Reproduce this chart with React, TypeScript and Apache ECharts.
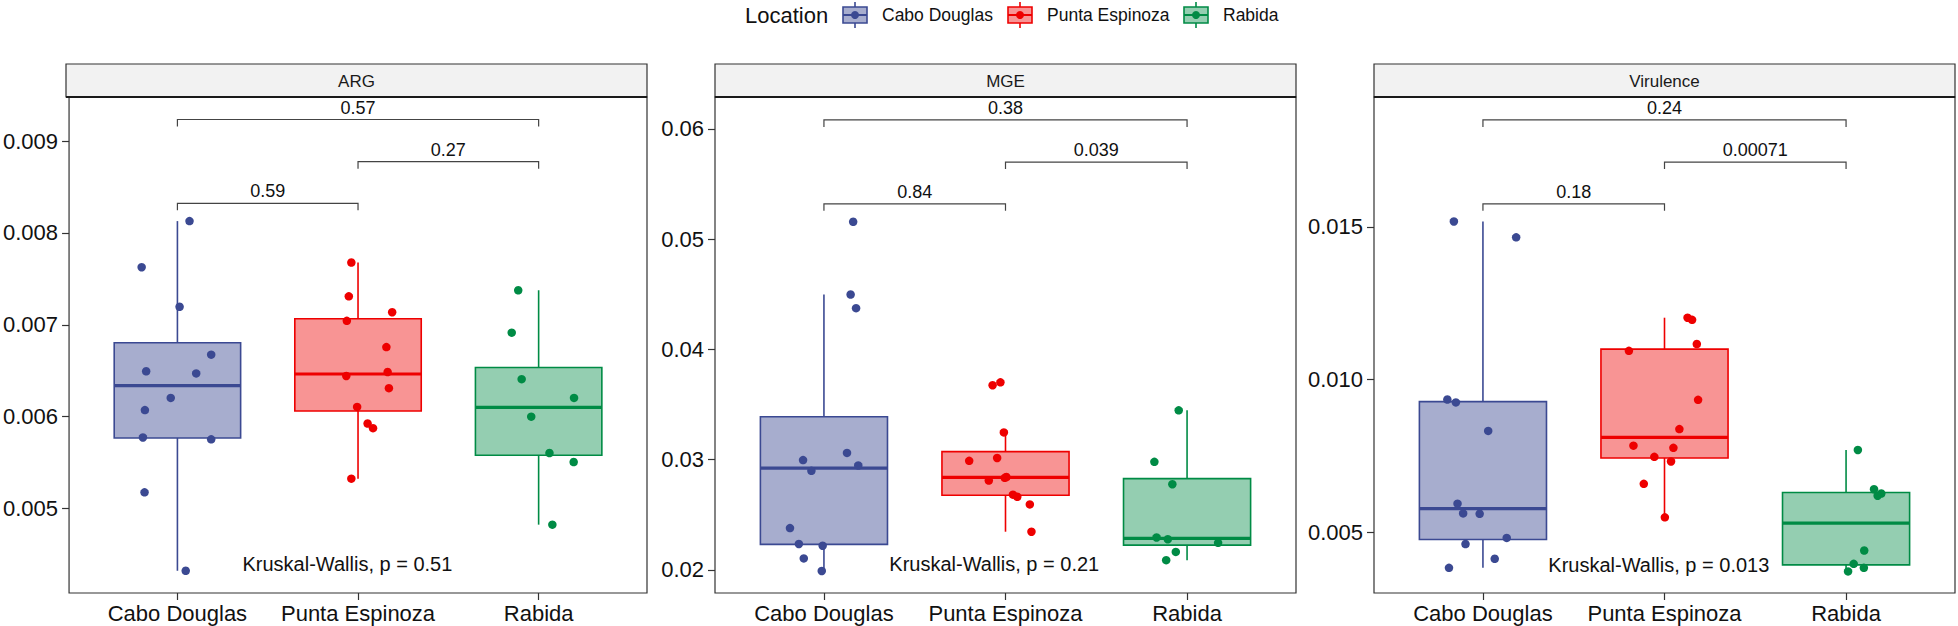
import React, { useEffect, useRef } from "react";
import * as echarts from "echarts";

const FONT = '"Liberation Sans", Arial, Helvetica, sans-serif';

const CATEGORIES = ["Cabo Douglas", "Punta Espinoza", "Rabida"];
const COLORS = ["#3B4992", "#EE0000", "#008B45"];
const FILLS = ["rgba(59,73,146,0.45)", "rgba(238,0,0,0.42)", "rgba(0,139,69,0.42)"];
const PANEL_TITLES = ["ARG", "MGE", "Virulence"];

// ARG values and horizontal jitter
const argCabo = [0.008129, 0.007627, 0.007196, 0.006675, 0.006494, 0.006471, 0.006204, 0.006071, 0.005773, 0.005753, 0.005176, 0.004322];
const argCaboJit = [0.067, -0.198, 0.012, 0.187, -0.173, 0.104, -0.037, -0.18, -0.191, 0.187, -0.182, 0.046];
const argPunta = [0.007678, 0.00731, 0.007137, 0.007043, 0.006757, 0.006443, 0.006486, 0.00631, 0.006106, 0.005925, 0.005875, 0.005325];
const argPuntaJit = [-0.037, -0.051, 0.189, -0.062, 0.157, -0.065, 0.164, 0.171, -0.005, 0.053, 0.083, -0.037];
const argRabida = [0.007376, 0.006914, 0.006408, 0.006204, 0.006, 0.005604, 0.005506, 0.004824];
const argRabidaJit = [-0.113, -0.149, -0.094, 0.196, -0.041, 0.06, 0.194, 0.076];

// MGE
const mgeCabo = [0.05158, 0.04498, 0.04374, 0.03061, 0.02996, 0.02947, 0.02898, 0.02379, 0.02235, 0.02219, 0.02104, 0.0199];
const mgeCaboJit = [0.161, 0.147, 0.177, 0.127, -0.115, 0.189, -0.069, -0.187, -0.138, -0.007, -0.111, -0.012];
const mgePunta = [0.03701, 0.03675, 0.03247, 0.03015, 0.02989, 0.02842, 0.02835, 0.0281, 0.02682, 0.02663, 0.02594, 0.02346];
const mgePuntaJit = [-0.028, -0.071, -0.009, -0.046, -0.2, 0.005, -0.004, -0.092, 0.041, 0.065, 0.134, 0.143];
const mgeRabida = [0.03447, 0.0298, 0.02777, 0.02294, 0.02278, 0.02245, 0.02163, 0.02088];
const mgeRabidaJit = [-0.046, -0.18, -0.081, -0.168, -0.106, 0.171, -0.062, -0.115];

// Virulence
const virCabo = [0.015177, 0.014658, 0.009351, 0.009257, 0.008325, 0.005943, 0.005625, 0.005613, 0.004823, 0.004623, 0.004139, 0.003844];
const virCaboJit = [-0.16, 0.183, -0.196, -0.149, 0.029, -0.14, -0.109, -0.018, 0.131, -0.096, 0.065, -0.187];
const virPunta = [0.012028, 0.011958, 0.011167, 0.010943, 0.00934, 0.008384, 0.007842, 0.007771, 0.007476, 0.007323, 0.006592, 0.005495];
const virPuntaJit = [0.127, 0.152, 0.178, -0.196, 0.185, 0.082, -0.171, 0.049, -0.056, 0.036, -0.114, 0.002];
const virRabida = [0.0077, 0.006415, 0.006274, 0.006203, 0.00441, 0.003974, 0.003844, 0.003726];
const virRabidaJit = [0.065, 0.154, 0.194, 0.174, 0.1, 0.042, 0.098, 0.011];

// axis ranges and ticks
const argRange = [0.00408, 0.00948];
const mgeRange = [0.0179, 0.0629];
const virRange = [0.00302, 0.01925];
const argTicks = [0.005, 0.006, 0.007, 0.008, 0.009];
const mgeTicks = [0.02, 0.03, 0.04, 0.05, 0.06];
const virTicks = [0.005, 0.01, 0.015];
const tickDecimals = [3, 2, 3];

// pairwise comparisons: [from, to]
const bracketPairs = [[1, 3], [2, 3], [1, 2]];
const argBracketY = [0.009235, 0.008776, 0.008322];
const mgeBracketY = [0.06082, 0.057, 0.05321];
const virBracketY = [0.0185, 0.01712, 0.015755];
const argBracketP = ["0.57", "0.27", "0.59"];
const mgeBracketP = ["0.38", "0.039", "0.84"];
const virBracketP = ["0.24", "0.00071", "0.18"];

const kruskalLabels = ["Kruskal-Wallis, p = 0.51", "Kruskal-Wallis, p = 0.21", "Kruskal-Wallis, p = 0.013"];
const kruskalY = [0.004392, 0.02049, 0.00394];
const KW_X = 1.36;

const BOX_WIDTH = 0.7;
const PANEL_LEFTS = [66, 715, 1374];
const PANEL_W = 581;
const PLOT_TOP = 97;
const PLOT_H = 496;
const STRIP_TOP = 64;

const panels = [
  { values: [argCabo, argPunta, argRabida], jit: [argCaboJit, argPuntaJit, argRabidaJit], range: argRange, ticks: argTicks, by: argBracketY, bp: argBracketP },
  { values: [mgeCabo, mgePunta, mgeRabida], jit: [mgeCaboJit, mgePuntaJit, mgeRabidaJit], range: mgeRange, ticks: mgeTicks, by: mgeBracketY, bp: mgeBracketP },
  { values: [virCabo, virPunta, virRabida], jit: [virCaboJit, virPuntaJit, virRabidaJit], range: virRange, ticks: virTicks, by: virBracketY, bp: virBracketP },
];

function quantile(sorted: number[], p: number) {
  const h = (sorted.length - 1) * p;
  const lo = Math.floor(h);
  const hi = Math.ceil(h);
  return sorted[lo] + (h - lo) * (sorted[hi] - sorted[lo]);
}

function boxStats(vals: number[]) {
  const s = [...vals].sort((a, b) => a - b);
  const q1 = quantile(s, 0.25);
  const med = quantile(s, 0.5);
  const q3 = quantile(s, 0.75);
  const iqr = q3 - q1;
  const low = Math.min(...s.filter((v) => v >= q1 - 1.5 * iqr));
  const high = Math.max(...s.filter((v) => v <= q3 + 1.5 * iqr));
  return [low, q1, med, q3, high];
}

function buildOption() {
  const grids: any[] = [];
  const xAxes: any[] = [];
  const yAxes: any[] = [];
  const series: any[] = [];
  const graphics: any[] = [];

  panels.forEach((p, i) => {
    grids.push({
      left: PANEL_LEFTS[i],
      top: PLOT_TOP,
      width: PANEL_W,
      height: PLOT_H,
      show: true,
      borderColor: "#333333",
      borderWidth: 1.2,
      backgroundColor: "transparent",
    });
    xAxes.push({
      gridIndex: i,
      type: "value",
      min: 0.4,
      max: 3.6,
      axisLine: { show: false },
      splitLine: { show: false },
      axisTick: { show: true, length: 7, customValues: [1, 2, 3], lineStyle: { color: "#333333", width: 1.2 } },
      axisLabel: {
        customValues: [1, 2, 3],
        formatter: (v: number) => CATEGORIES[Math.round(v) - 1],
        fontSize: 22,
        fontFamily: FONT,
        color: "#111",
        margin: 9,
      },
    });
    const dec = tickDecimals[i];
    yAxes.push({
      gridIndex: i,
      type: "value",
      min: p.range[0],
      max: p.range[1],
      axisLine: { show: false },
      splitLine: { show: false },
      axisTick: { show: true, length: 7, customValues: p.ticks, lineStyle: { color: "#333333", width: 1.2 } },
      axisLabel: {
        customValues: p.ticks,
        formatter: (v: number) => v.toFixed(dec),
        fontSize: 22,
        fontFamily: FONT,
        color: "#111",
        margin: 11,
      },
    });

    // boxes
    const boxData = p.values.map((vals, k) => [k + 1, ...boxStats(vals)]);
    series.push({
      type: "custom",
      xAxisIndex: i,
      yAxisIndex: i,
      z: 2,
      encode: { x: 0, y: [1, 2, 3, 4, 5] },
      data: boxData,
      renderItem: (params: any, api: any) => {
        const x = api.value(0);
        const k = x - 1;
        const c = COLORS[k];
        const pLow = api.coord([x, api.value(1)]);
        const pQ1 = api.coord([x, api.value(2)]);
        const pMed = api.coord([x, api.value(3)]);
        const pQ3 = api.coord([x, api.value(4)]);
        const pHigh = api.coord([x, api.value(5)]);
        const left = api.coord([x - BOX_WIDTH / 2, api.value(3)])[0];
        const right = api.coord([x + BOX_WIDTH / 2, api.value(3)])[0];
        const cx = pMed[0];
        return {
          type: "group",
          children: [
            { type: "line", shape: { x1: cx, y1: pHigh[1], x2: cx, y2: pQ3[1] }, style: { stroke: c, lineWidth: 1.6 } },
            { type: "line", shape: { x1: cx, y1: pQ1[1], x2: cx, y2: pLow[1] }, style: { stroke: c, lineWidth: 1.6 } },
            {
              type: "rect",
              shape: { x: left, y: pQ3[1], width: right - left, height: pQ1[1] - pQ3[1] },
              style: { fill: FILLS[k], stroke: c, lineWidth: 1.6 },
            },
            { type: "line", shape: { x1: left, y1: pMed[1], x2: right, y2: pMed[1] }, style: { stroke: c, lineWidth: 3.2 } },
          ],
        };
      },
    });

    // jittered points
    p.values.forEach((vals, k) => {
      series.push({
        type: "scatter",
        name: CATEGORIES[k],
        xAxisIndex: i,
        yAxisIndex: i,
        z: 3,
        symbolSize: 8.5,
        itemStyle: { color: COLORS[k], opacity: 1 },
        data: vals.map((v, j) => [k + 1 + p.jit[k][j], v]),
      });
    });

    // comparison brackets
    series.push({
      type: "custom",
      xAxisIndex: i,
      yAxisIndex: i,
      z: 4,
      encode: { x: [0, 1], y: 2 },
      data: bracketPairs.map((bp, j) => [bp[0], bp[1], p.by[j]]),
      renderItem: (params: any, api: any) => {
        const a = api.coord([api.value(0), api.value(2)]);
        const b = api.coord([api.value(1), api.value(2)]);
        const tick = 7;
        return {
          type: "group",
          children: [
            {
              type: "polyline",
              shape: { points: [[a[0], a[1] + tick], [a[0], a[1]], [b[0], b[1]], [b[0], b[1] + tick]] },
              style: { stroke: "#444444", lineWidth: 1.2, fill: "none" },
            },
            {
              type: "text",
              x: (a[0] + b[0]) / 2,
              y: a[1] - 3,
              style: {
                text: p.bp[params.dataIndex],
                fontSize: 18,
                fontFamily: FONT,
                fill: "#111",
                align: "center",
                verticalAlign: "bottom",
              },
            },
          ],
        };
      },
    });

    // Kruskal-Wallis label
    series.push({
      type: "custom",
      xAxisIndex: i,
      yAxisIndex: i,
      z: 4,
      encode: { x: 0, y: 1 },
      data: [[KW_X, kruskalY[i]]],
      renderItem: (params: any, api: any) => {
        const pt = api.coord([api.value(0), api.value(1)]);
        return {
          type: "text",
          x: pt[0],
          y: pt[1],
          style: {
            text: kruskalLabels[i],
            fontSize: 20,
            fontFamily: FONT,
            fill: "#111",
            align: "left",
            verticalAlign: "middle",
          },
        };
      },
    });

    // facet strip
    graphics.push({
      type: "rect",
      shape: { x: PANEL_LEFTS[i], y: STRIP_TOP, width: PANEL_W, height: PLOT_TOP - STRIP_TOP },
      style: { fill: "#F2F2F2", stroke: "#333333", lineWidth: 1.2 },
      z: 10,
    });
    graphics.push({
      type: "line",
      shape: { x1: PANEL_LEFTS[i], y1: PLOT_TOP, x2: PANEL_LEFTS[i] + PANEL_W, y2: PLOT_TOP },
      style: { stroke: "#1a1a1a", lineWidth: 2.2 },
      z: 11,
    });
    graphics.push({
      type: "text",
      x: PANEL_LEFTS[i] + PANEL_W / 2,
      y: (STRIP_TOP + PLOT_TOP) / 2 + 1,
      style: { text: PANEL_TITLES[i], fontSize: 17, fontFamily: FONT, fill: "#1a1a1a", align: "center", verticalAlign: "middle" },
      z: 12,
    });
  });

  // legend
  const legendY = 15;
  graphics.push({
    type: "text",
    x: 745,
    y: legendY,
    style: { text: "Location", fontSize: 22, fontFamily: FONT, fill: "#111", align: "left", verticalAlign: "middle" },
  });
  const keyX = [842, 1007, 1183];
  const textX = [882, 1047, 1223];
  CATEGORIES.forEach((name, k) => {
    const x0 = keyX[k];
    graphics.push({
      type: "group",
      x: x0,
      y: legendY - 13,
      children: [
        { type: "line", shape: { x1: 13, y1: 0, x2: 13, y2: 5 }, style: { stroke: COLORS[k], lineWidth: 1.6 } },
        { type: "line", shape: { x1: 13, y1: 21, x2: 13, y2: 26 }, style: { stroke: COLORS[k], lineWidth: 1.6 } },
        { type: "rect", shape: { x: 1, y: 5, width: 24, height: 16 }, style: { fill: FILLS[k], stroke: COLORS[k], lineWidth: 1.6 } },
        { type: "line", shape: { x1: 1, y1: 13, x2: 25, y2: 13 }, style: { stroke: COLORS[k], lineWidth: 2 } },
        { type: "circle", shape: { cx: 13, cy: 13, r: 4 }, style: { fill: COLORS[k] } },
      ],
    });
    graphics.push({
      type: "text",
      x: textX[k],
      y: legendY,
      style: { text: name, fontSize: 17.5, fontFamily: FONT, fill: "#111", align: "left", verticalAlign: "middle" },
    });
  });

  return {
    animation: false,
    backgroundColor: "#ffffff",
    grid: grids,
    xAxis: xAxes,
    yAxis: yAxes,
    series,
    graphic: graphics,
  };
}

export default function App() {
  const ref = useRef<HTMLDivElement>(null);
  useEffect(() => {
    if (!ref.current) return;
    const chart = echarts.init(ref.current, null, { renderer: "svg" });
    chart.setOption(buildOption() as any);
    return () => chart.dispose();
  }, []);
  return (
    <div
      ref={ref}
      style={{ position: "absolute", left: 0, top: 0, width: 1958, height: 626, background: "#fff" }}
    />
  );
}
